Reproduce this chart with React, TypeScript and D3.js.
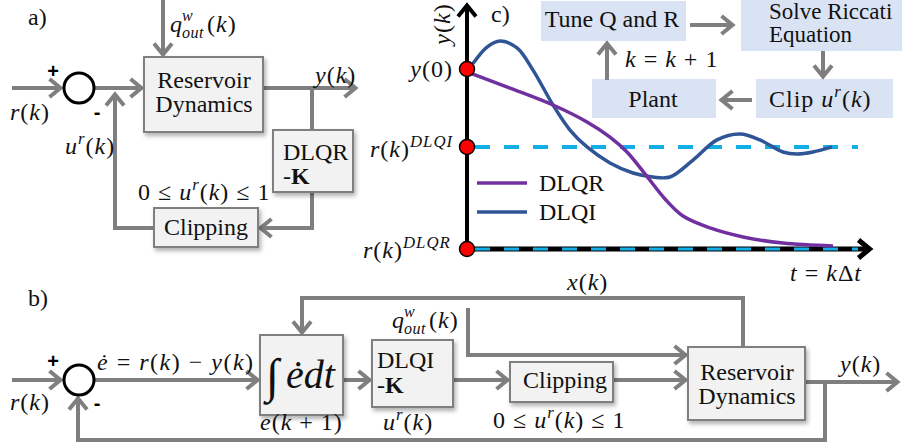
import React from 'react';
import * as d3 from 'd3';

// ---------- data (panel c) ----------
const timeDLQR = [0.5, 10.75, 21.5, 30, 35.75, 40, 44.5, 49.5, 54, 60.75, 69, 79, 91.5];
const valueDLQR = [0.98, 0.894, 0.8, 0.706, 0.622, 0.539, 0.417, 0.278, 0.183, 0.117, 0.067, 0.033, 0.017];
const timeDLQI = [1.5, 5, 8.25, 12.5, 16.5, 21.5, 25.75, 30, 35.75, 41.5, 46.5, 50.75, 56.5, 62.5, 68.25, 73.25, 79, 82.5, 86.5, 91.25];
const valueDLQI = [1.03, 1.122, 1.156, 1.117, 0.994, 0.8, 0.661, 0.567, 0.478, 0.422, 0.4, 0.4, 0.494, 0.606, 0.639, 0.606, 0.539, 0.528, 0.539, 0.567];
const refDLQI = 0.567;
const refDLQR = 0;
const initialValue = 1;
const refEnd = 97.75;
const legendLabels = ['DLQR', 'DLQI'];
const flowLabels = ['Tune Q and R', 'Solve Riccati', 'Equation', 'Plant', 'k = k + 1'];

const SERIF = '"Liberation Serif", "DejaVu Serif", serif';
const GRAY = '#7f7f7f';
const BOXFILL = '#f2f2f2';
const FLOWFILL = '#dae3f3';
const PURPLE = '#7030a0';
const BLUE = '#2f5597';
const CYAN = '#12aee8';

const xs = d3.scaleLinear().domain([0, 100]).range([467, 867]);
const ys = d3.scaleLinear().domain([0, 1]).range([249, 69]);

type Pt = [number, number];

function Arrow({ pts, color = GRAY, w = 4, head = true }: { pts: Pt[]; color?: string; w?: number; head?: boolean }) {
  const n = pts.length;
  const [x1, y1] = pts[n - 2];
  const [x2, y2] = pts[n - 1];
  const len = Math.hypot(x2 - x1, y2 - y1);
  const ux = (x2 - x1) / len, uy = (y2 - y1) / len;
  const back = head ? 2.5 : 0;
  const tx = x2 - ux * back, ty = y2 - uy * back;
  const linePts: Pt[] = [...pts.slice(0, n - 1), [tx - ux * 1, ty - uy * 1]];
  const L = 11, W = 9;
  const line = d3.line();
  return (
    <g stroke={color} strokeWidth={w} fill="none">
      <path d={line(head ? linePts : pts) || ''} strokeLinejoin="miter" />
      {head && (
        <path
          d={line([
            [tx - ux * L - uy * W, ty - uy * L + ux * W],
            [tx, ty],
            [tx - ux * L + uy * W, ty - uy * L - ux * W],
          ]) || ''}
          strokeLinejoin="miter"
        />
      )}
    </g>
  );
}

type Part = [string, string?];
function MT({ x, y, parts, size = 24, anchor = 'start', transform, ls }: { x: number; y: number; parts: Part[]; size?: number; anchor?: string; transform?: string; ls?: number }) {
  let cur = 0;
  const isMath = parts.some(([, k]) => (k || '').includes('i'));
  const spacing = ls !== undefined ? ls : isMath ? 1 : 0;
  return (
    <text x={x} y={y} fontSize={size} fontFamily={SERIF} textAnchor={anchor} fill="#111" transform={transform} letterSpacing={spacing || undefined} style={{ whiteSpace: 'pre' }}>
      {parts.map(([s, k = ''], i) => {
        const isSup = k.includes('^');
        const isSub = k.includes('_');
        const off = isSup ? -size * 0.42 : isSub ? size * 0.25 : 0;
        const dy = off - cur;
        cur = off;
        return (
          <tspan
            key={i}
            dy={dy !== 0 ? dy : undefined}
            fontStyle={k.includes('i') ? 'italic' : undefined}
            fontWeight={k.includes('b') ? 'bold' : undefined}
            fontSize={isSup || isSub ? size * 0.7 : undefined}
          >
            {s}
          </tspan>
        );
      })}
    </text>
  );
}

function GBox({ x, y, w, h }: { x: number; y: number; w: number; h: number }) {
  return <rect x={x} y={y} width={w} height={h} fill={BOXFILL} stroke={GRAY} strokeWidth={2} filter="url(#sh)" />;
}

function FBox({ x, y, w, h }: { x: number; y: number; w: number; h: number }) {
  return <rect x={x} y={y} width={w} height={h} fill={FLOWFILL} />;
}

function Qlabel({ x, y }: { x: number; y: number }) {
  return (
    <g>
      <MT x={x} y={y} parts={[['q', 'i']]} />
      <MT x={x + 12} y={y - 11} size={16} parts={[['w', 'i']]} />
      <MT x={x + 12} y={y + 6} size={16} ls={0.5} parts={[['out', 'i']]} />
      <MT x={x + 37} y={y} parts={[['('], ['k', 'i'], [')']]} />
    </g>
  );
}

function Sign({ x, y, s }: { x: number; y: number; s: string }) {
  return (
    <text x={x} y={y} fontSize={20} fontWeight="bold" fontFamily='"Liberation Sans", Arial, sans-serif' textAnchor="middle" dominantBaseline="central" fill="#000">
      {s}
    </text>
  );
}

const ur: Part[] = [['u', 'i'], ['r', 'i^'], ['('], ['k', 'i'], [')']];
const rk: Part[] = [['r', 'i'], ['('], ['k', 'i'], [')']];
const yk: Part[] = [['y', 'i'], ['('], ['k', 'i'], [')']];
const clipRange: Part[] = [['0 ≤ '], ['u', 'i'], ['r', 'i^'], ['('], ['k', 'i'], [') ≤ 1']];

export default function App() {
  const line = d3.line<[number, number]>()
    .x((d) => xs(d[0]))
    .y((d) => ys(d[1]))
    .curve(d3.curveCatmullRom.alpha(0.5));
  const dlqr = line(timeDLQR.map((t, i) => [t, valueDLQR[i]]) as [number, number][]) || '';
  const dlqi = line(timeDLQI.map((t, i) => [t, valueDLQI[i]]) as [number, number][]) || '';
  const x0 = xs(0);

  return (
    <svg width={902} height={445} style={{ position: 'absolute', left: 0, top: 0, background: '#fff' }}>
      <defs>
        <filter id="sh" x="-20%" y="-20%" width="150%" height="150%">
          <feDropShadow dx={2} dy={3} stdDeviation={2} floodColor="#000" floodOpacity={0.3} />
        </filter>
      </defs>

      {/* ================= panel a ================= */}
      <MT x={28} y={25} parts={[['a)']]} />
      <Arrow pts={[[163, 0], [163, 57]]} />
      <Qlabel x={170} y={32} />
      <Arrow pts={[[12, 88], [63, 88]]} />
      <Arrow pts={[[95, 88], [144, 88]]} />
      <Arrow pts={[[263, 88], [358, 88]]} />
      <Arrow pts={[[312, 88], [312, 130]]} head={false} />
      <Arrow pts={[[312, 192], [312, 228], [258, 228]]} />
      <Arrow pts={[[154, 228], [115, 228], [115, 92]]} />
      <circle cx={79} cy={88} r={15} fill="#fff" stroke="#000" strokeWidth={3} />
      <Sign x={53} y={71} s="+" />
      <Sign x={97} y={112} s="-" />
      <GBox x={144} y={57} w={119} h={75} />
      <GBox x={273} y={130} w={80} h={62} />
      <GBox x={154} y={208} w={104} h={39} />
      <MT x={204} y={88} anchor="middle" parts={[['Reservoir']]} />
      <MT x={204} y={112} anchor="middle" parts={[['Dynamics']]} />
      <MT x={283} y={160} parts={[['DLQR']]} />
      <MT x={283} y={184} parts={[['-'], ['K', 'b']]} />
      <MT x={206} y={235} anchor="middle" parts={[['Clipping']]} />
      <MT x={138} y={200} parts={clipRange} />
      <MT x={10} y={120} parts={rk} />
      <MT x={65} y={154} parts={ur} />
      <MT x={315} y={83} parts={yk} />

      {/* ================= panel b ================= */}
      <MT x={28} y={306} parts={[['b)']]} />
      <Arrow pts={[[12, 380], [63, 380]]} />
      <Arrow pts={[[95, 380], [260, 380]]} />
      <Arrow pts={[[743, 347], [743, 298], [302, 298], [302, 335]]} />
      <Arrow pts={[[343, 380], [372, 380]]} />
      <Arrow pts={[[468, 308], [468, 355], [688, 355]]} />
      <Arrow pts={[[453, 380], [510, 380]]} />
      <Arrow pts={[[613, 380], [688, 380]]} />
      <Arrow pts={[[805, 382], [900, 382]]} />
      <Arrow pts={[[825, 382], [825, 440], [78, 440], [78, 396]]} />
      <circle cx={79} cy={380} r={15} fill="#fff" stroke="#000" strokeWidth={3} />
      <Sign x={53} y={361} s="+" />
      <Sign x={97} y={403} s="-" />
      <GBox x={260} y={335} w={83} h={80} />
      <GBox x={372} y={340} w={81} h={67} />
      <GBox x={510} y={362} w={103} h={40} />
      <GBox x={688} y={347} w={117} h={73} />
      <MT x={10} y={410} parts={rk} />
      <MT x={97} y={370} ls={1.5} parts={[['ė', 'i'], [' = '], ['r', 'i'], ['('], ['k', 'i'], [') − '], ['y', 'i'], ['('], ['k', 'i'], [')']]} />
      <text x={266} y={392} fontSize={48} fontFamily={SERIF} fontStyle="italic" fill="#111">∫</text>
      <MT x={286} y={388} size={40} ls={0} parts={[['ėdt', 'i']]} />
      <MT x={377} y={368} parts={[['DLQI']]} />
      <MT x={377} y={393} parts={[['-'], ['K', 'b']]} />
      <Qlabel x={392} y={328} />
      <MT x={567} y={290} parts={[['x', 'i'], ['('], ['k', 'i'], [')']]} />
      <MT x={565} y={388} anchor="middle" parts={[['Clipping']]} />
      <MT x={493} y={428} parts={clipRange} />
      <MT x={747} y={380} anchor="middle" parts={[['Reservoir']]} />
      <MT x={747} y={404} anchor="middle" parts={[['Dynamics']]} />
      <MT x={840} y={372} parts={yk} />
      <MT x={260} y={430} parts={[['e', 'i'], ['('], ['k', 'i'], [' + 1)']]} />
      <MT x={383} y={430} parts={ur} />

      {/* ================= panel c ================= */}
      <FBox x={541} y={1} w={145} h={40} />
      <FBox x={741} y={0} w={161} h={51} />
      <FBox x={592} y={79} w={124} h={39} />
      <FBox x={756} y={79} w={137} h={39} />
      <MT x={612} y={27} anchor="middle" parts={[[flowLabels[0]]]} />
      <MT x={769} y={19} size={23} parts={[[flowLabels[1]]]} />
      <MT x={769} y={42} size={23} parts={[[flowLabels[2]]]} />
      <MT x={653} y={107} anchor="middle" parts={[[flowLabels[3]]]} />
      <MT x={769} y={107} parts={[['Clip '], ['u', 'i'], ['r', 'i^'], ['('], ['k', 'i'], [')']]} />
      <MT x={625} y={67} parts={[['k', 'i'], [' = '], ['k', 'i'], [' + 1']]} />
      <Arrow pts={[[690, 25], [735, 25]]} />
      <Arrow pts={[[823, 51], [823, 79]]} />
      <Arrow pts={[[752, 100], [719, 100]]} />
      <Arrow pts={[[607, 80], [607, 41]]} />

      {/* axes */}
      <Arrow pts={[[x0, ys(refDLQR)], [x0, 3]]} color="#000" w={4} />
      <Arrow pts={[[x0, ys(refDLQR)], [872, ys(refDLQR)]]} color="#000" w={5} />
      {/* reference lines */}
      <line x1={x0 + 8} x2={xs(refEnd)} y1={ys(refDLQI)} y2={ys(refDLQI)} stroke={CYAN} strokeWidth={4} strokeDasharray="15 14" />
      <line x1={x0 + 8} x2={xs(refEnd)} y1={ys(refDLQR)} y2={ys(refDLQR)} stroke={CYAN} strokeWidth={3} strokeDasharray="15 14" />
      {/* curves */}
      <path d={dlqi} fill="none" stroke={BLUE} strokeWidth={3.5} />
      <path d={dlqr} fill="none" stroke={PURPLE} strokeWidth={3.5} />
      {/* dots */}
      {[initialValue, refDLQI, refDLQR].map((v, i) => (
        <circle key={i} cx={x0} cy={ys(v)} r={7.5} fill="#ff0000" stroke="#000" strokeWidth={1.5} />
      ))}
      {/* legend */}
      <line x1={477} x2={527} y1={183} y2={183} stroke={PURPLE} strokeWidth={3.5} />
      <line x1={477} x2={527} y1={212} y2={212} stroke={BLUE} strokeWidth={3.5} />
      <MT x={539} y={191} parts={[[legendLabels[0]]]} />
      <MT x={539} y={220} parts={[[legendLabels[1]]]} />
      {/* labels */}
      <MT x={450} y={24} anchor="middle" transform="rotate(-90 450 24)" parts={yk} />
      <MT x={491} y={22} parts={[['c)']]} />
      <MT x={453} y={77} anchor="end" parts={[['y', 'i'], ['(0)']]} />
      <MT x={370} y={157} parts={[['r', 'i'], ['('], ['k', 'i'], [')'], ['DLQI', 'i^']]} />
      <MT x={363} y={258} parts={[['r', 'i'], ['('], ['k', 'i'], [')'], ['DLQR', 'i^']]} />
      <MT x={790} y={281} parts={[['t', 'i'], [' = '], ['k', 'i'], ['Δ'], ['t', 'i']]} />
    </svg>
  );
}
